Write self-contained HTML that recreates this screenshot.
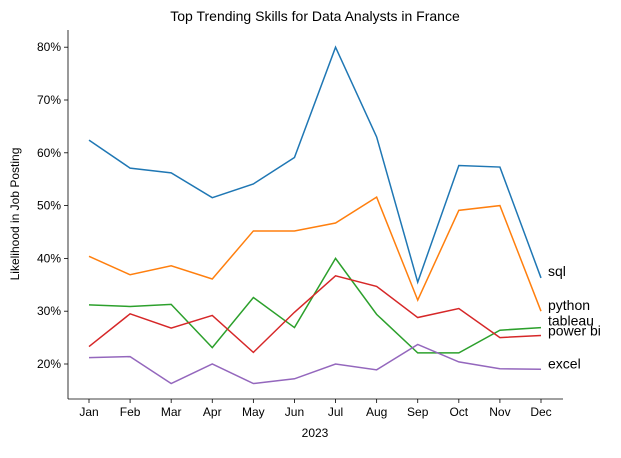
<!DOCTYPE html>
<html><head><meta charset="utf-8"><style>
body{margin:0;background:#fff;font-family:"Liberation Sans",Arial,sans-serif}
svg text{font-family:"Liberation Sans",Arial,sans-serif}
</style></head><body>
<svg id="chart" width="621" height="453" xmlns="http://www.w3.org/2000/svg">
<text x="315" y="21" font-size="14" text-anchor="middle">Top Trending Skills for Data Analysts in France</text>
<g id="axes"></g><g id="lines"></g>
<text x="315" y="437" font-size="12" text-anchor="middle">2023</text>
<text transform="translate(19,214) rotate(-90)" font-size="12" text-anchor="middle">Likelihood in Job Posting</text>
</svg>
<script>
const months=["Jan","Feb","Mar","Apr","May","Jun","Jul","Aug","Sep","Oct","Nov","Dec"];
const yTicks=[20,30,40,50,60,70,80];
const sqlVals=[62.4,57.1,56.2,51.5,54.1,59.1,80,63,35.5,57.6,57.3,36.3];
const pythonVals=[40.4,36.9,38.6,36.1,45.2,45.2,46.7,51.6,32.1,49.1,50,30];
const tableauVals=[31.2,30.9,31.3,23.1,32.6,26.9,40,29.4,22.1,22.1,26.4,26.9];
const powerbiVals=[23.3,29.5,26.8,29.2,22.2,29.8,36.7,34.7,28.8,30.5,25,25.4];
const excelVals=[21.2,21.4,16.3,20,16.3,17.2,20,18.9,23.7,20.4,19.1,19];
const seriesNames=["sql","python","tableau","power bi","excel"];
const NS="http://www.w3.org/2000/svg";
const x=i=>89+i*(541-89)/11;
const y=v=>364-(v-20)*5.28;
const ax=document.getElementById('axes'),ln=document.getElementById('lines');
function mk(tag,at,par){const e=document.createElementNS(NS,tag);for(const k in at)e.setAttribute(k,at[k]);par.appendChild(e);return e;}
const ls=mk('line',{x1:68,y1:399,x2:563,y2:399,stroke:'#000','stroke-width':0.8},ax);


const lv=mk('line',{x1:68,y1:30,x2:68,y2:399,stroke:'#000','stroke-width':0.8},ax);


months.forEach((m,i)=>{
 mk('line',{x1:x(i),y1:399,x2:x(i),y2:403,stroke:'#000','stroke-width':0.8},ax);
 const t=mk('text',{x:x(i),y:416,'font-size':12,'text-anchor':'middle'},ax);t.textContent=m;
 
 
});
yTicks.forEach(v=>{
 mk('line',{x1:64,y1:y(v),x2:68,y2:y(v),stroke:'#000','stroke-width':0.8},ax);
 const t=mk('text',{x:61,y:y(v)+4,'font-size':12,'text-anchor':'end'},ax);t.textContent=v+'%';
 
 
});
const all=[sqlVals,pythonVals,tableauVals,powerbiVals,excelVals];
const colors=["#1f77b4","#ff7f0e","#2ca02c","#d62728","#9467bd"];
const labelOff=[-2,-1,-2,0,-1];
all.forEach((d,s)=>{
 const p=mk('polyline',{points:d.map((v,i)=>x(i)+','+y(v)).join(' '),fill:'none',stroke:colors[s],'stroke-width':1.5},ln);
 
 
 const t=mk('text',{x:548,y:y(d[11])+labelOff[s],'font-size':14},ln);t.textContent=seriesNames[s];
 
 
});
</script>
</body></html>
